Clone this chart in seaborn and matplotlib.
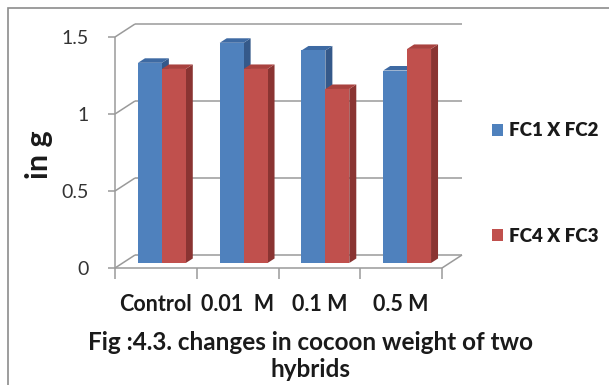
import matplotlib
matplotlib.use("Agg")
import matplotlib.pyplot as plt
import pandas as pd
import seaborn as sns
from matplotlib.patches import Polygon, Rectangle
from matplotlib.lines import Line2D

# ---- data -------------------------------------------------------------
categories = ["Control", "0.01  M", "0.1 M", "0.5 M"]
series_names = ["FC1 X FC2", "FC4 X FC3"]
fc1_x_fc2 = [1.30, 1.43, 1.38, 1.25]
fc4_x_fc3 = [1.26, 1.26, 1.13, 1.39]
y_ticks = [0, 0.5, 1, 1.5]
y_tick_labels = ["0", "0.5", "1", "1.5"]
y_label = "in g"
title = "Fig :4.3. changes in cocoon weight of two\nhybrids"

df = pd.DataFrame({
    "treatment": categories * 2,
    "weight": fc1_x_fc2 + fc4_x_fc3,
    "hybrid": [series_names[0]] * len(categories) + [series_names[1]] * len(categories),
})

# ---- style ------------------------------------------------------------
sns.set_theme(style="white")
plt.rcParams["font.family"] = ["Lato", "DejaVu Sans"]

FRONT = ["#4F81BD", "#C0504D"]
SIDE = ["#35598A", "#8A3432"]
TOP = ["#3E6AA3", "#A9423F"]
GRID = "#9A9A9A"
TEXT = "#1A1A1A"

DPI = 100
W, H = 609, 385
fig = plt.figure(figsize=(W / DPI, H / DPI), dpi=DPI)
fig.patch.set_facecolor("white")

# front plane of the 3-D box
ax = fig.add_axes([115 / W, 117 / H, 327 / W, 231 / H])

sns.barplot(data=df, x="treatment", y="weight", hue="hybrid",
            palette=FRONT, saturation=1, width=0.585, dodge=True,
            legend=False, ax=ax, zorder=3, edgecolor="none", linewidth=0)
ax.set_xlim(-0.5, len(categories) - 0.5)
ax.set_ylim(0, 1.5)

# pixel -> data conversion factors
sx = len(categories) / ax.bbox.width
sy = 1.5 / ax.bbox.height

DEPTH = (20, 13)      # depth of the whole box (px)
BAR_OFF = (6, 5)      # bars stand a little behind the front plane
BAR_DEPTH = (7, 4.5)  # depth of each bar

dX, dY = DEPTH[0] * sx, DEPTH[1] * sy
x0, x1 = -0.5, len(categories) - 0.5


def line(xs, ys, **kw):
    ax.add_line(Line2D(xs, ys, color=GRID, lw=1.1, clip_on=False,
                       solid_capstyle="butt", **kw))


# back wall gridlines + left wall diagonals
for v in y_ticks:
    line([x0 + dX, x1 + dX], [v + dY, v + dY], zorder=1)
    line([x0, x0 + dX], [v, v + dY], zorder=1)
# floor front and right edges, left front edge
line([x0, x1], [0, 0], zorder=1)
line([x1, x1 + dX], [0, dY], zorder=1)
line([x0, x0], [0, 1.5], zorder=1)

# give the bars their 3-D look
ox, oy = BAR_OFF[0] * sx, BAR_OFF[1] * sy
bx, by = BAR_DEPTH[0] * sx, BAR_DEPTH[1] * sy
bars = [p for p in ax.patches if isinstance(p, Rectangle)]
for i, bar in enumerate(bars):
    s = i // len(categories)
    x, w, h = bar.get_x(), bar.get_width(), bar.get_height()
    bar.set_x(x + ox)
    bar.set_y(oy)
    bar.set_clip_on(False)
    xl, xr, yb, yt = x + ox, x + ox + w, oy, oy + h
    ax.add_patch(Polygon([(xr, yb), (xr + bx, yb + by), (xr + bx, yt + by), (xr, yt)],
                         closed=True, facecolor=SIDE[s], edgecolor="none",
                         zorder=2, clip_on=False))
    ax.add_patch(Polygon([(xl, yt), (xr, yt), (xr + bx, yt + by), (xl + bx, yt + by)],
                         closed=True, facecolor=TOP[s], edgecolor="none",
                         zorder=2, clip_on=False))

# axes, ticks and labels
for sp in ax.spines.values():
    sp.set_visible(False)
ax.set_facecolor("none")
ax.set_yticks(y_ticks, y_tick_labels)
ax.set_xticks(range(len(categories)), categories)
ax.set_xticks([x0 + k for k in range(len(categories) + 1)], minor=True)
ax.tick_params(axis="y", which="major", left=True, length=5, width=1.1,
               color=GRID, pad=14, labelsize=14, labelcolor="#333333")
ax.tick_params(axis="x", which="major", bottom=False, length=0, pad=19,
               labelsize=15.5, labelcolor=TEXT)
ax.tick_params(axis="x", which="minor", bottom=True, length=8, width=1.1,
               color=GRID)
for lab in ax.get_xticklabels():
    lab.set_fontweight("bold")
ax.set_xlabel("")
ax.set_ylabel(y_label, fontsize=22, fontweight="bold", color=TEXT)
ax.yaxis.set_label_coords(-0.19, 0.49)

# legend
handles = [Rectangle((0, 0), 1, 1, facecolor=c, edgecolor="none") for c in FRONT]
leg = fig.legend(handles, series_names, loc="center left",
                 bbox_to_anchor=(492 / W, 1 - 183.5 / H), frameon=False,
                 borderpad=0, borderaxespad=0,
                 handlelength=0.6, handleheight=0.6, handletextpad=0.3,
                 labelspacing=4.7, fontsize=13.5)
for t in leg.get_texts():
    t.set_fontweight("heavy")
    t.set_color(TEXT)

# caption
fig.text(310 / W, 1 - 356 / H, title, ha="center", va="center",
         fontsize=17.5, fontweight="bold", color=TEXT, linespacing=1.18)

# outer frame
fig.add_artist(Rectangle((8 / W, -0.1), 1.2, 1.1 - 8 / H,
                         transform=fig.transFigure, fill=False,
                         edgecolor="#8C8C8C", lw=1.2))

fig.savefig("out.png", dpi=DPI, facecolor="white")
